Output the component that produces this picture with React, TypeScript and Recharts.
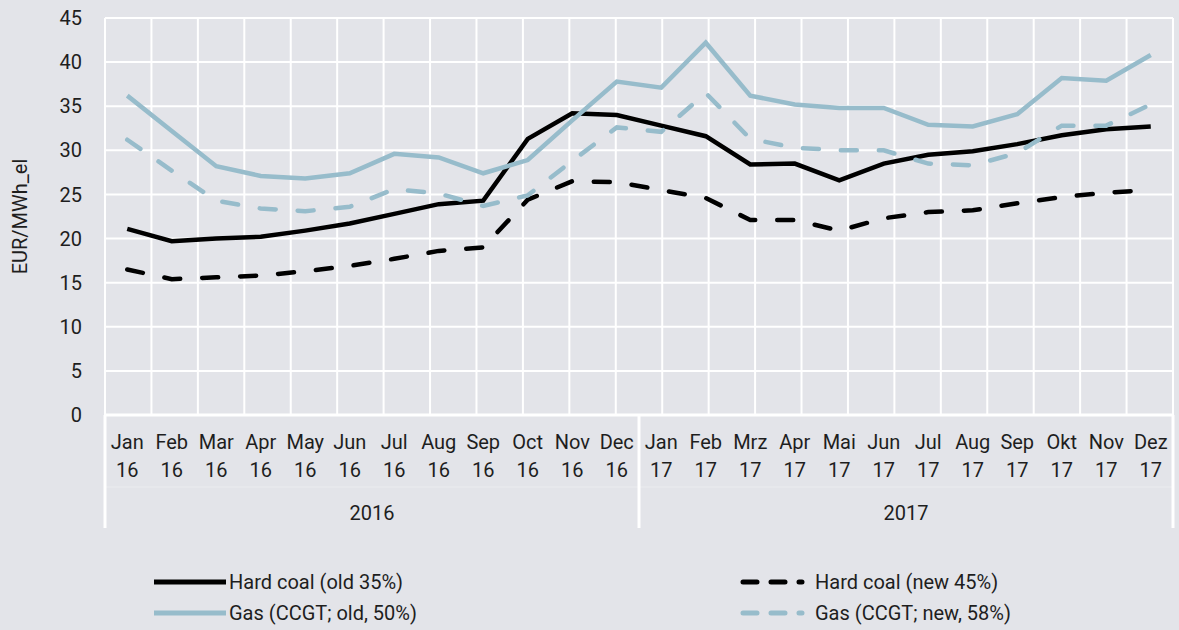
import { LineChart, Line, XAxis, YAxis, CartesianGrid } from 'recharts';

const months = ['Jan', 'Feb', 'Mar', 'Apr', 'May', 'Jun', 'Jul', 'Aug', 'Sep', 'Oct', 'Nov', 'Dec',
  'Jan', 'Feb', 'Mrz', 'Apr', 'Mai', 'Jun', 'Jul', 'Aug', 'Sep', 'Okt', 'Nov', 'Dez'];
const yearShort = ['16', '16', '16', '16', '16', '16', '16', '16', '16', '16', '16', '16',
  '17', '17', '17', '17', '17', '17', '17', '17', '17', '17', '17', '17'];
const years = ['2016', '2017'];

// EUR/MWh_el
const hardCoalOld = [21.1, 19.7, 20.0, 20.2, 20.9, 21.7, 22.8, 23.9, 24.3, 31.3, 34.2, 34.0,
  32.8, 31.6, 28.4, 28.5, 26.6, 28.5, 29.5, 29.9, 30.7, 31.7, 32.4, 32.7];
const hardCoalNew = [16.5, 15.4, 15.6, 15.8, 16.3, 16.9, 17.7, 18.6, 19.0, 24.4, 26.5, 26.4,
  25.5, 24.6, 22.1, 22.1, 20.9, 22.3, 23.0, 23.2, 24.0, 24.7, 25.2, 25.5];
const gasOld = [36.2, 32.2, 28.2, 27.1, 26.8, 27.4, 29.6, 29.2, 27.4, 28.9, 33.4, 37.8,
  37.1, 42.2, 36.2, 35.2, 34.8, 34.8, 32.9, 32.7, 34.1, 38.2, 37.9, 40.8];
const gasNew = [31.2, 27.7, 24.3, 23.4, 23.1, 23.6, 25.6, 25.1, 23.7, 24.9, 28.8, 32.6,
  32.1, 36.5, 31.3, 30.3, 30.0, 30.0, 28.5, 28.3, 29.7, 32.8, 32.8, 35.2];
const yTicks = [0, 5, 10, 15, 20, 25, 30, 35, 40, 45];

const data = months.map((m, i) => ({
  month: `${m} ${yearShort[i]}`,
  hardCoalOld: hardCoalOld[i],
  hardCoalNew: hardCoalNew[i],
  gasOld: gasOld[i],
  gasNew: gasNew[i],
}));
const boundaryTicks = [...months.map((_, i) => i), months.length];

const W = 1179;
const H = 630;
const BG = '#e3e4e9';
const GAS = '#97bccb';
const TEXT = '#1e1e1e';
const FONT = 'Roboto, sans-serif';
const PLOT_LEFT = 105;
const PLOT_RIGHT = 6;
const X_AXIS_H = 115;
const HALF = (W - PLOT_LEFT - PLOT_RIGHT) / months.length / 2;
const DASH = '16 22';

function MonthTick(props: any) {
  const { x, y, index } = props;
  const i = index as number;
  const half = months.length / 2;
  return (
    <g>
      <text x={x} y={y + 34} textAnchor="middle" fontSize={20} fill={TEXT} fontFamily={FONT}>{months[i]}</text>
      <text x={x} y={y + 62} textAnchor="middle" fontSize={20} fill={TEXT} fontFamily={FONT}>{yearShort[i]}</text>
      <line x1={x - HALF} x2={x + HALF} y1={y + 72} y2={y + 72} stroke="#fff" strokeOpacity={0.35} strokeWidth={1} />
      {(i === 0 || i === half) && (
        <line x1={x - HALF} x2={x - HALF} y1={y} y2={y + 113} stroke="#fff" strokeWidth={3} />
      )}
      {i === months.length - 1 && (
        <line x1={x + HALF} x2={x + HALF} y1={y} y2={y + 113} stroke="#fff" strokeWidth={3} />
      )}
      {(i === half / 2 - 1 || i === half + half / 2 - 1) && (
        <text x={x + HALF} y={y + 105} textAnchor="middle" fontSize={20} fill={TEXT} fontFamily={FONT}>
          {years[i < half ? 0 : 1]}
        </text>
      )}
    </g>
  );
}

function LegendItem({ label, color, dashed, left, top }: { label: string; color: string; dashed?: boolean; left: number; top: number }) {
  return (
    <div style={{ position: 'absolute', left, top, display: 'flex', alignItems: 'center', height: 24 }}>
      <svg width={dashed ? 80 : 72} height={10} style={{ marginRight: 3 }}>
        {dashed ? (
          <line x1={11} x2={70} y1={5} y2={5} stroke={color} strokeWidth={5} strokeDasharray="14 14" strokeLinecap="round" />
        ) : (
          <line x1={0} x2={72} y1={5} y2={5} stroke={color} strokeWidth={5} />
        )}
      </svg>
      <span style={{ fontFamily: FONT, fontSize: 20, color: TEXT, whiteSpace: 'nowrap' }}>{label}</span>
    </div>
  );
}

export default function App() {
  return (
    <div style={{ position: 'absolute', left: 0, top: 0, width: W, height: H, background: BG, overflow: 'hidden' }}>
      <LineChart width={W} height={H} data={data} margin={{ top: 18, right: PLOT_RIGHT, bottom: 215 - X_AXIS_H, left: 0 }}>
        <XAxis xAxisId="grid" type="number" domain={[0, months.length]} ticks={boundaryTicks} hide />
        <CartesianGrid xAxisId="grid" stroke="#fff" strokeWidth={2} />
        <XAxis
          dataKey="month"
          interval={0}
          height={X_AXIS_H}
          padding={{ left: HALF, right: HALF }}
          tickSize={0}
          tickMargin={0}
          tickLine={false}
          axisLine={{ stroke: '#fff', strokeWidth: 3 }}
          tick={<MonthTick />}
        />
        <YAxis
          domain={[0, 45]}
          ticks={yTicks}
          width={PLOT_LEFT}
          tickSize={0}
          tickMargin={23}
          axisLine={false}
          tickLine={false}
          tick={{ fontSize: 20, fill: TEXT, fontFamily: FONT }}
          label={{ value: 'EUR/MWh_el', angle: -90, position: 'insideLeft', offset: 20, style: { textAnchor: 'middle', fontSize: 20, fill: TEXT, fontFamily: FONT } }}
        />
        <Line dataKey="hardCoalOld" stroke="#000" strokeWidth={4.5} dot={false} isAnimationActive={false} />
        <Line dataKey="hardCoalNew" stroke="#000" strokeWidth={4.5} strokeDasharray={DASH} strokeLinecap="round" dot={false} isAnimationActive={false} />
        <Line dataKey="gasOld" stroke={GAS} strokeWidth={4.5} dot={false} isAnimationActive={false} />
        <Line dataKey="gasNew" stroke={GAS} strokeWidth={4.5} strokeDasharray={DASH} strokeLinecap="round" dot={false} isAnimationActive={false} />
      </LineChart>
      <LegendItem label="Hard coal (old 35%)" color="#000" left={154} top={570} />
      <LegendItem label="Hard coal (new 45%)" color="#000" dashed left={732} top={570} />
      <LegendItem label="Gas (CCGT; old, 50%)" color={GAS} left={154} top={601} />
      <LegendItem label="Gas (CCGT; new, 58%)" color={GAS} dashed left={732} top={601} />
    </div>
  );
}
